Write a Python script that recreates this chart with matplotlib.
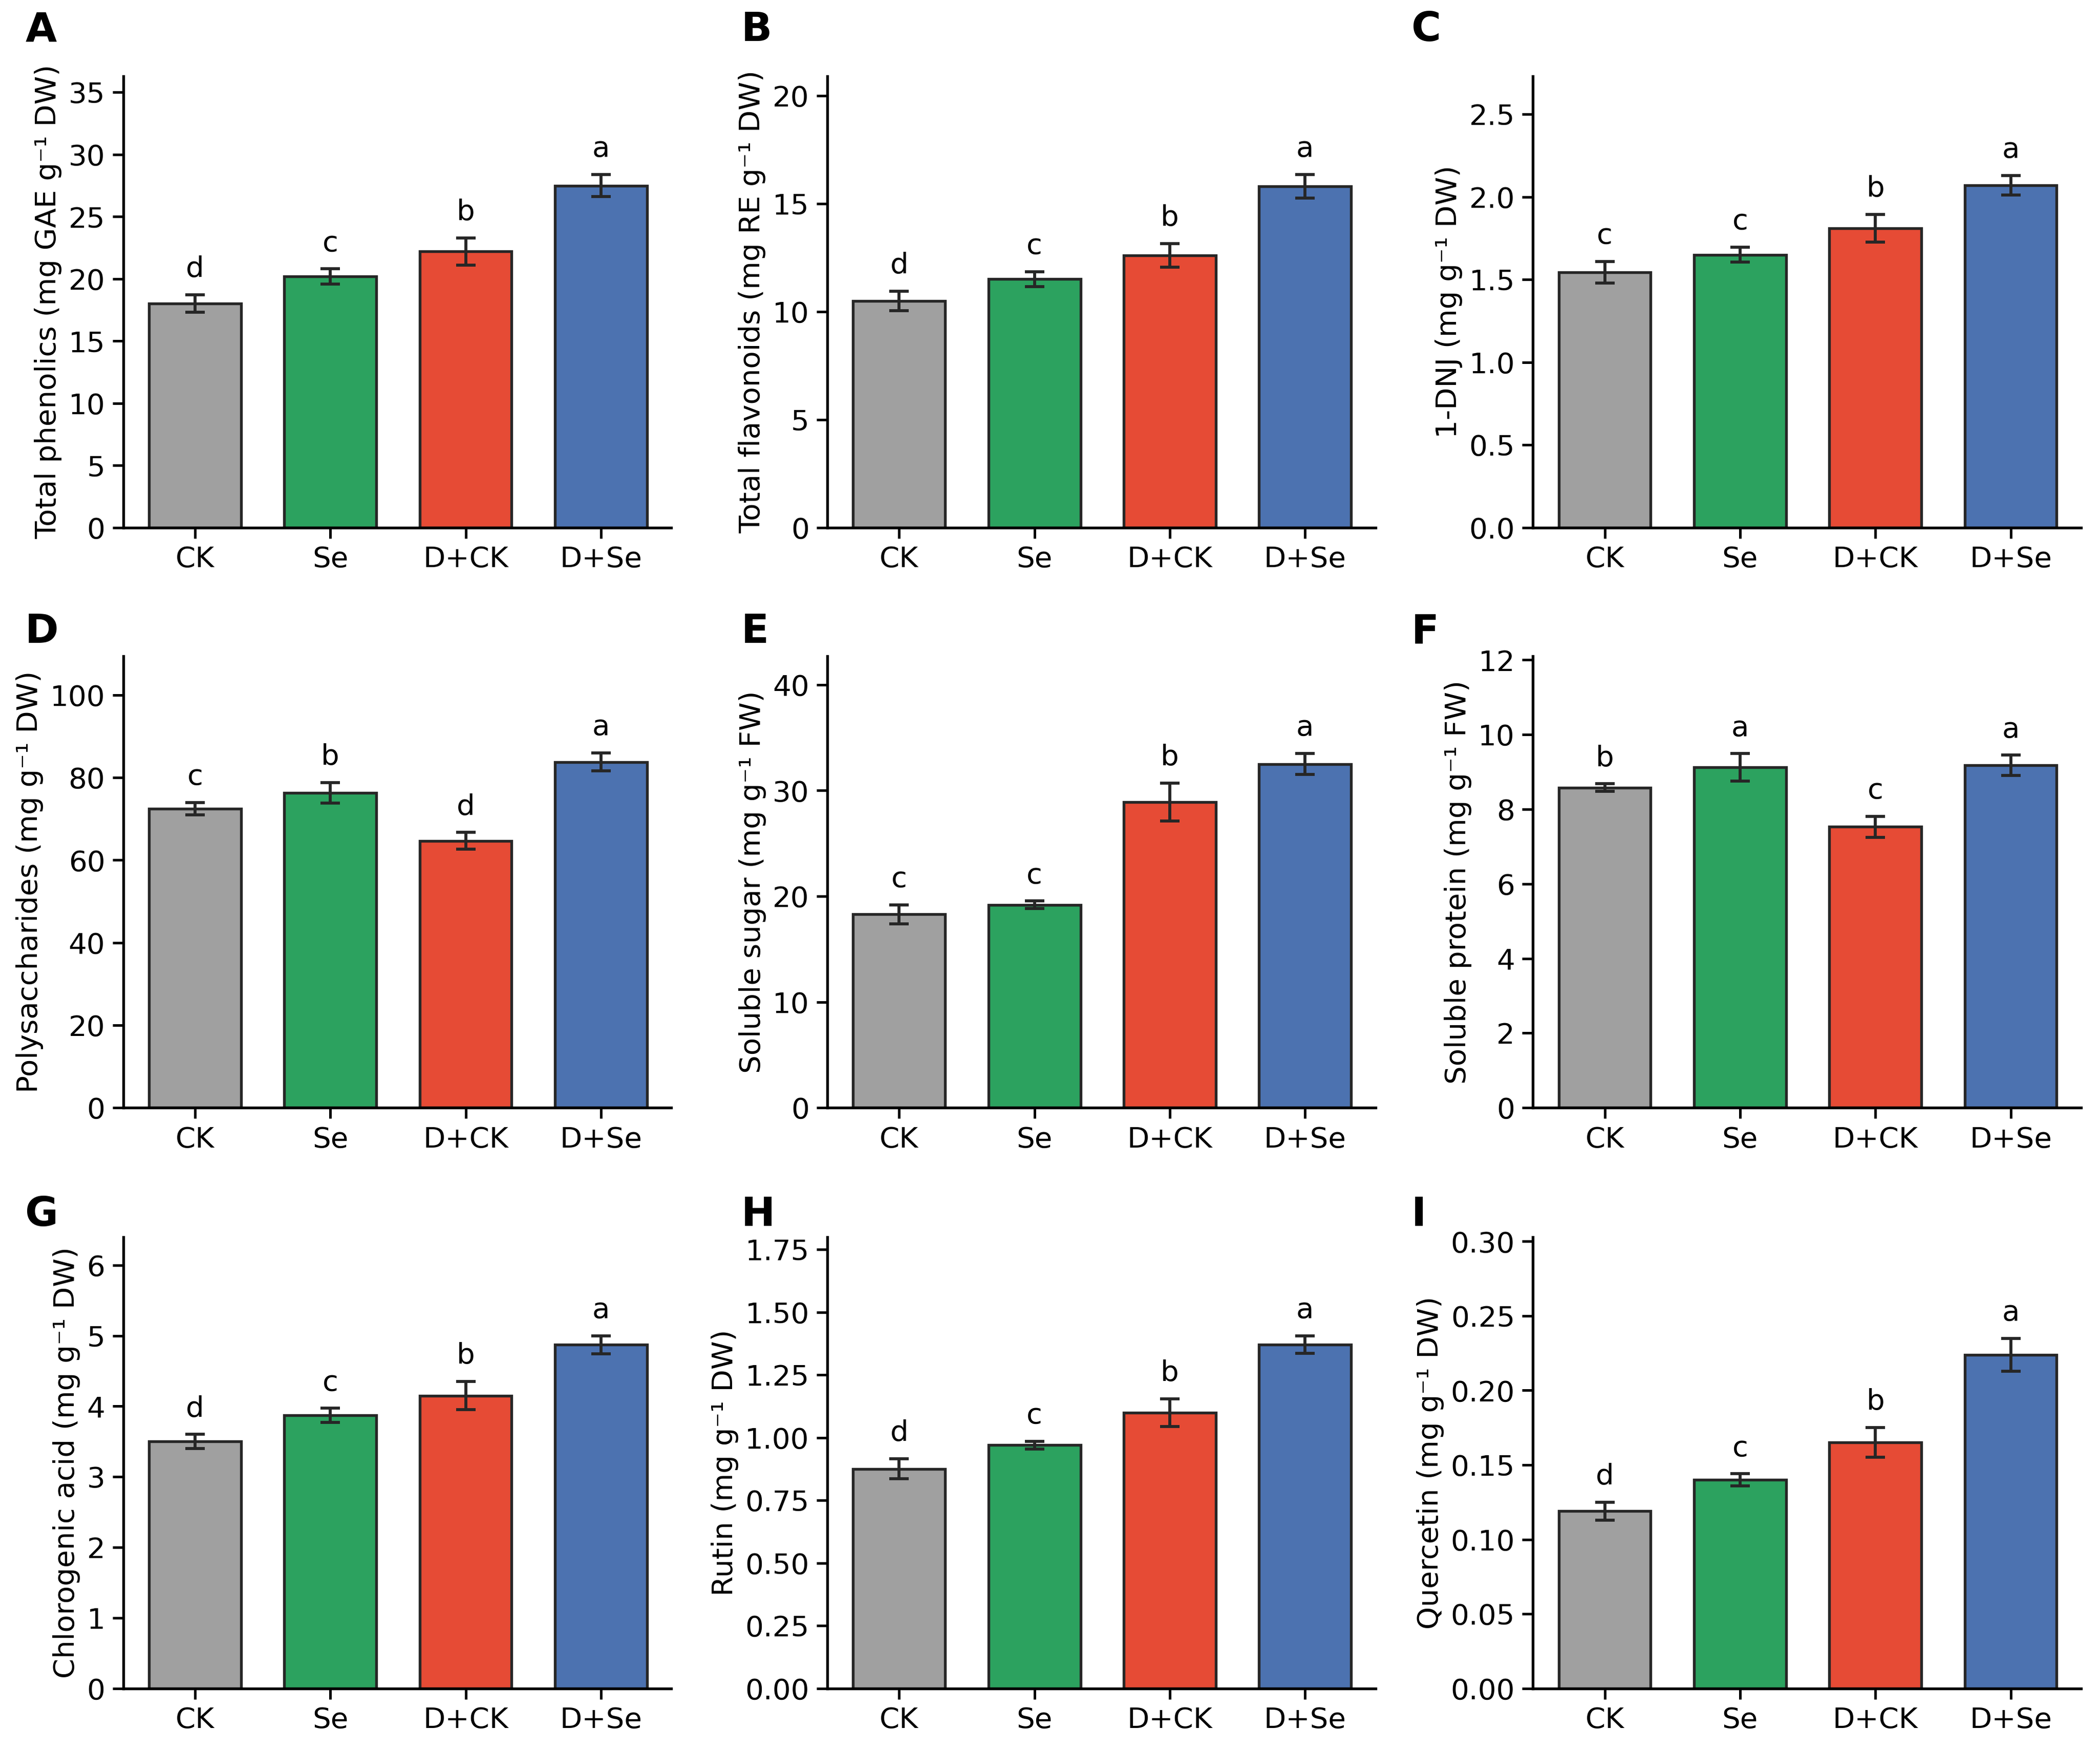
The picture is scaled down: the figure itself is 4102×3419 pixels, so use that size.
import matplotlib
matplotlib.use("Agg")
import matplotlib.pyplot as plt
import numpy as np

plt.rcParams['font.family'] = ['DejaVu Sans']

groups = ["CK", "Se", "D+CK", "D+Se"]
colors = ["#a0a0a0", "#2ca25f", "#e64b35", "#4c72b0"]

# panel data: means, errors, letters
phen_mean = [18.0, 20.2, 22.2, 27.5]
phen_err = [0.7, 0.6, 1.1, 0.9]
phen_let = ["d", "c", "b", "a"]

flav_mean = [10.5, 11.5, 12.6, 15.8]
flav_err = [0.45, 0.35, 0.55, 0.55]
flav_let = ["d", "c", "b", "a"]

dnj_mean = [1.545, 1.65, 1.81, 2.07]
dnj_err = [0.065, 0.045, 0.085, 0.06]
dnj_let = ["c", "c", "b", "a"]

poly_mean = [72.5, 76.3, 64.7, 83.8]
poly_err = [1.5, 2.5, 2.0, 2.2]
poly_let = ["c", "b", "d", "a"]

sugar_mean = [18.3, 19.2, 28.9, 32.5]
sugar_err = [0.9, 0.35, 1.8, 1.0]
sugar_let = ["c", "c", "b", "a"]

prot_mean = [8.58, 9.12, 7.53, 9.18]
prot_err = [0.1, 0.37, 0.28, 0.27]
prot_let = ["b", "a", "c", "a"]

chlor_mean = [3.5, 3.87, 4.15, 4.87]
chlor_err = [0.1, 0.1, 0.2, 0.13]
chlor_let = ["d", "c", "b", "a"]

rutin_mean = [0.875, 0.97, 1.10, 1.37]
rutin_err = [0.04, 0.015, 0.055, 0.035]
rutin_let = ["d", "c", "b", "a"]

quer_mean = [0.119, 0.140, 0.165, 0.224]
quer_err = [0.006, 0.004, 0.01, 0.011]
quer_let = ["d", "c", "b", "a"]

panels = [
    ("A", "Total phenolics (mg GAE g⁻¹ DW)", phen_mean, phen_err, phen_let, 36.3, np.arange(0, 36, 5), "%d"),
    ("B", "Total flavonoids (mg RE g⁻¹ DW)", flav_mean, flav_err, flav_let, 20.9, np.arange(0, 21, 5), "%d"),
    ("C", "1-DNJ (mg g⁻¹ DW)", dnj_mean, dnj_err, dnj_let, 2.73, np.arange(0, 2.6, 0.5), "%.1f"),
    ("D", "Polysaccharides (mg g⁻¹ DW)", poly_mean, poly_err, poly_let, 109.4, np.arange(0, 101, 20), "%d"),
    ("E", "Soluble sugar (mg g⁻¹ FW)", sugar_mean, sugar_err, sugar_let, 42.7, np.arange(0, 41, 10), "%d"),
    ("F", "Soluble protein (mg g⁻¹ FW)", prot_mean, prot_err, prot_let, 12.1, np.arange(0, 13, 2), "%d"),
    ("G", "Chlorogenic acid (mg g⁻¹ DW)", chlor_mean, chlor_err, chlor_let, 6.4, np.arange(0, 7, 1), "%d"),
    ("H", "Rutin (mg g⁻¹ DW)", rutin_mean, rutin_err, rutin_let, 1.80, np.arange(0, 1.76, 0.25), "%.2f"),
    ("I", "Quercetin (mg g⁻¹ DW)", quer_mean, quer_err, quer_let, 0.303, np.arange(0, 0.301, 0.05), "%.2f"),
]

fig = plt.figure(figsize=(4102 / 300, 3419 / 300), dpi=300)

lefts = [0.0587, 0.394, 0.730]
bottoms = [0.6985, 0.367, 0.0352]
w = 0.261
h = 0.258
letter_x = [0.012, 0.353, 0.672]
letter_y = [0.983, 0.639, 0.306]

x = np.arange(len(groups))
for i, (lab, ylabel, mean, err, lets, ytop, ticks, fmt) in enumerate(panels):
    r, c = divmod(i, 3)
    ax = fig.add_axes([lefts[c], bottoms[r], w, h])
    ax.bar(x, mean, width=0.68, color=colors, edgecolor="#262626", linewidth=1.3, zorder=2)
    ax.errorbar(x, mean, yerr=err, fmt="none", ecolor="#262626", elinewidth=1.4,
                capsize=4.5, capthick=1.4, zorder=3)
    for xi, m, e, l in zip(x, mean, err, lets):
        ax.annotate(l, (xi, m + e), xytext=(0, 5.5), textcoords="offset points",
                    ha="center", va="bottom", fontsize=13.5)
    ax.set_xlim(-0.53, 3.52)
    ax.set_ylim(0, ytop)
    ax.set_yticks(ticks)
    ax.set_yticklabels([fmt % t for t in ticks])
    ax.set_xticks(x)
    ax.set_xticklabels(groups)
    ax.set_ylabel(ylabel, fontsize=13.5, labelpad=3)
    ax.tick_params(labelsize=13.5, width=1.2, length=5)
    for s in ["top", "right"]:
        ax.spines[s].set_visible(False)
    for s in ["left", "bottom"]:
        ax.spines[s].set_linewidth(1.3)
    fig.text(letter_x[c], letter_y[r], lab, fontsize=19, fontweight="bold", va="center", ha="left")

fig.savefig("out.png", dpi=300)
